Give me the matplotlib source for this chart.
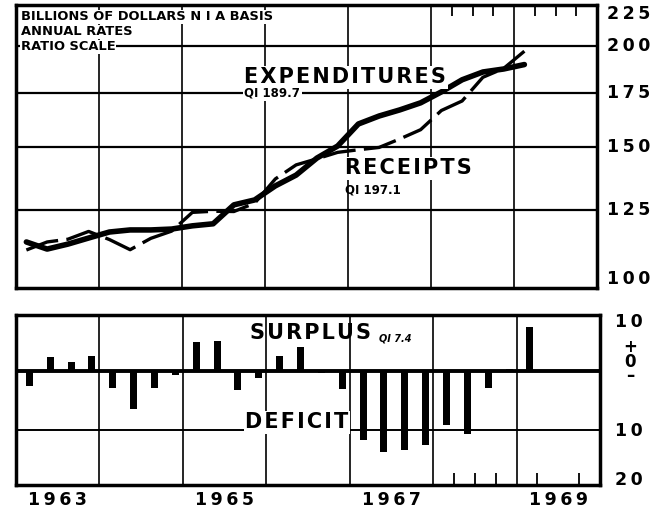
import numpy as np
import matplotlib
matplotlib.use("Agg")
from matplotlib import pyplot as plt

plt.rc('font', family='DejaVu Sans', weight='bold')

# quarterly data, 1963 QI .. 1969 QI (billions of dollars, NIA basis, annual rates)
expenditures = [114.1, 111.8, 113.4, 115.4, 117.4, 118.1, 118.1, 118.4,
                119.5, 120.2, 126.9, 128.7, 134.0, 138.2, 145.1, 150.2,
                160.0, 163.7, 166.6, 170.0, 175.4, 181.6, 185.7, 187.3, 189.7]
receipts = [111.5, 114.1, 115.0, 117.6, 114.9, 111.6, 115.3, 117.7,
            124.2, 124.6, 124.5, 127.5, 136.7, 142.3, 144.8, 147.5,
            148.6, 149.6, 153.3, 157.4, 166.3, 170.9, 182.9, 187.6, 197.1]
surplus = [-2.6, 2.3, 1.6, 2.5, -2.8, -6.5, -2.8, -0.7,
           4.9, 5.1, -3.2, -1.2, 2.5, 4.0, -0.3, -3.0,
           -11.6, -13.7, -13.3, -12.6, -9.1, -10.7, -2.8, 0.3, 7.4]

years = [1963, 1964, 1965, 1966, 1967, 1968, 1969, 1970]
year_labels = ["1963", "1965", "1967", "1969"]
top_levels = [100, 125, 150, 175, 200, 225]
qticks = [1968.25, 1968.5, 1968.75, 1969.25, 1969.5, 1969.75]

quarters = 1963 + 0.125 + 0.25*np.arange(len(expenditures))

def spaced(s, sep="\u200a"):
    return sep.join(s)

white = dict(facecolor="white", edgecolor="none", pad=1.0)

fig = plt.figure(figsize=(6.58, 5.12), dpi=100)

#top panel, ratio scale
ax1 = fig.add_axes([16/658, 224/512, 581/658, 283/512])
ax1.set_yscale("log")
ax1.set_xlim(years[0], years[-1])
ax1.set_ylim(top_levels[0], top_levels[-1])
for y in top_levels[1:-1]:
    ax1.axhline(y, color="black", lw=1.6, zorder=1)
for x in years[1:-1]:
    ax1.axvline(x, color="black", lw=1.2, zorder=1)
ax1.plot(quarters, receipts, color="black", lw=2.4, dashes=(10, 2.5), zorder=3)
ax1.plot(quarters, expenditures, color="black", lw=4.0, solid_capstyle="round", zorder=4)
ax1.set_yticks([])
ax1.set_yticks([], minor=True)
ax1.set_xticks([])
ax1.set_xticks(qticks, minor=True)
ax1.tick_params(which="minor", top=True, bottom=False, direction="in", length=8, width=1.3,
                labeltop=False, labelbottom=False)
for s in ax1.spines.values():
    s.set_linewidth(2.5)
    s.set_zorder(6)

ytr = ax1.get_yaxis_transform()
for y in top_levels:
    va = "center"
    if y == 225:
        va = "top"
    if y == 100:
        va = "bottom"
    ax1.text(1.018, y, "\u2009".join(str(y)), transform=ytr, ha="left", va=va, fontsize=12.5)

header = ["BILLIONS OF DOLLARS N I A BASIS", "ANNUAL RATES", "RATIO SCALE"]
for i, line in enumerate(header):
    ax1.text(0.008, 0.9576 - 0.053*i, line, transform=ax1.transAxes, ha="left", va="center",
             fontsize=9.4, bbox=dict(facecolor="white", edgecolor="none", pad=0.6), zorder=5)
ax1.text(1965.75, 183, spaced("EXPENDITURES"), ha="left", va="center", fontsize=15, bbox=white, zorder=5)
ax1.text(1965.75, 175, "QI 189.7", ha="left", va="center", fontsize=8.5, bbox=white, zorder=5)
ax1.text(1966.96, 141, spaced("RECEIPTS"), ha="left", va="center", fontsize=15, bbox=white, zorder=5)
ax1.text(1966.96, 132.5, "QI 197.1", ha="left", va="center", fontsize=8.5, zorder=5)

#bottom panel, surplus or deficit
ax2 = fig.add_axes([16/658, 27/512, 584/658, 170/512])
ax2.set_xlim(years[0], years[-1])
ax2.set_ylim(-19.3, 9.5)
ax2.axhline(0, color="black", lw=2.8, zorder=2)
ax2.axhline(-10, color="black", lw=1.4, zorder=1)
for x in years[1:-1]:
    ax2.axvline(x, color="black", lw=1.2, zorder=1)
ax2.bar(quarters + 0.035, surplus, width=0.085, color="black", zorder=3)
ax2.set_yticks([])
ax2.set_xticks([y + 0.5 for y in years[0:-1:2]], [spaced(l, "\u2009") for l in year_labels])
ax2.set_xticks(qticks, minor=True)
ax2.tick_params(which="major", length=0, pad=4, labelsize=12.5)
ax2.tick_params(which="minor", direction="in", length=9, width=1.3)
for s in ax2.spines.values():
    s.set_linewidth(2.5)

ytr2 = ax2.get_yaxis_transform()
ax2.text(1.025, 8.3, "\u2009".join("10"), transform=ytr2, ha="left", va="center", fontsize=12.5)
ax2.text(1.052, 1.6, "+\n0\n\u2013", transform=ytr2, ha="center", va="center", fontsize=12, linespacing=0.75)
ax2.text(1.025, -10.2, "\u2009".join("10"), transform=ytr2, ha="left", va="center", fontsize=12.5)
ax2.text(1.025, -18.5, "\u2009".join("20"), transform=ytr2, ha="left", va="center", fontsize=12.5)

ax2.text(1965.8, 6.5, spaced("SURPLUS"), ha="left", va="center", fontsize=15, zorder=5)
ax2.text(1967.35, 5.6, "QI 7.4", ha="left", va="center", fontsize=7, style="italic", zorder=5)
ax2.text(1965.75, -8.7, spaced("DEFICIT"), ha="left", va="center", fontsize=15, bbox=white, zorder=4)

fig.savefig("out.png", dpi=100)
